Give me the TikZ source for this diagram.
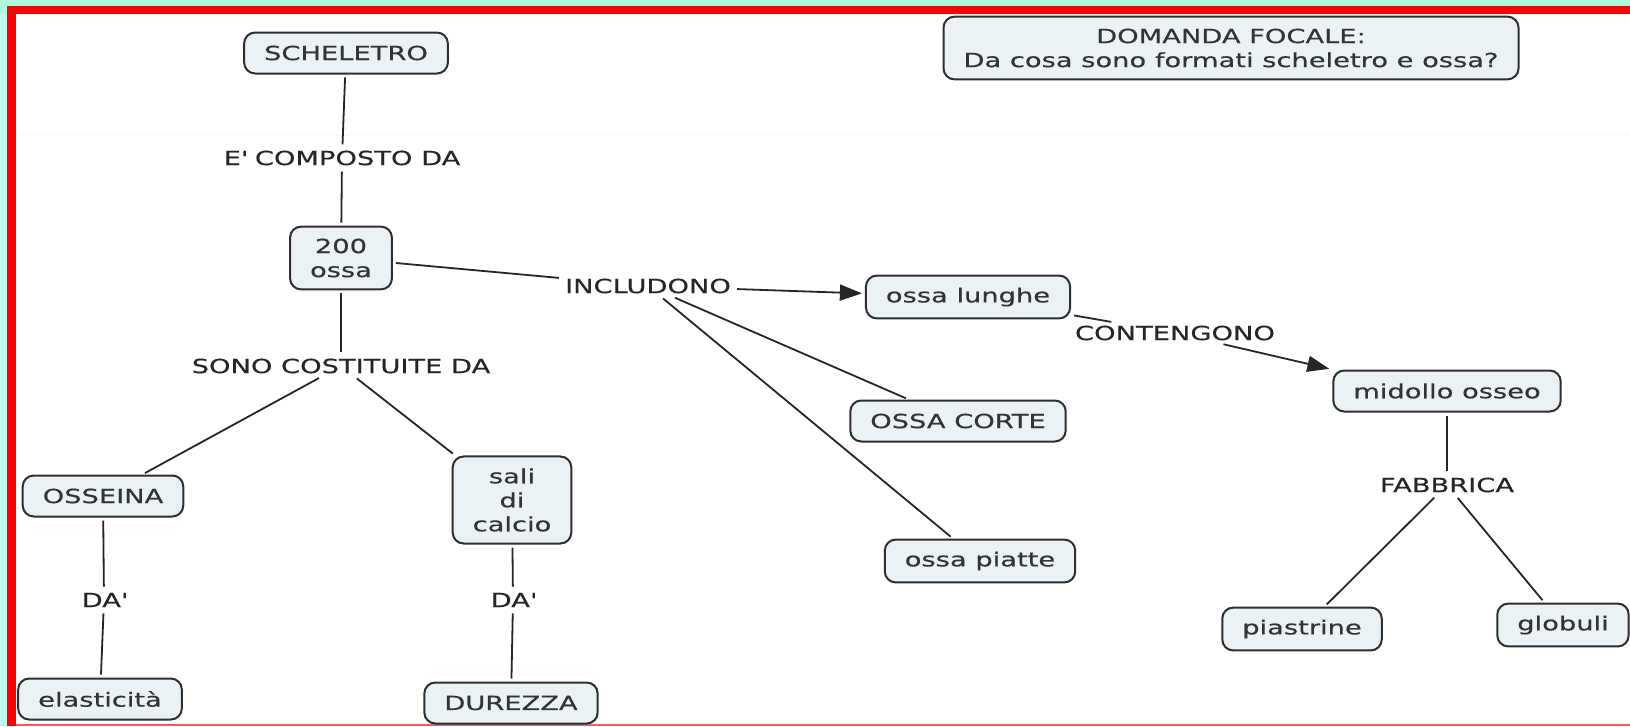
\documentclass[tikz,border=0pt]{standalone}
\usepackage{fontspec}
\setmainfont[FakeStretch=1.4, FakeBold=0.4]{DejaVu Sans}
\usepackage{tikz}
\usetikzlibrary{arrows.meta}
\definecolor{CmapFill}{HTML}{EBF2F5}
\definecolor{CmapLine}{HTML}{2E2E2E}
\definecolor{FrameRed}{HTML}{FF0000}
\definecolor{FrameMint}{HTML}{ADFBDD}
\definecolor{FrameCyan}{HTML}{C2F8F2}

\begin{document}
\begin{tikzpicture}[x=1pt, y=-1pt,
  every node/.style={font=\fontsize{19.5}{24}\selectfont},
  concept/.style={draw=CmapLine, fill=CmapFill, line width=2pt, rounded corners=11pt, text=black!80, inner xsep=20pt, inner ysep=12pt, minimum height=41pt, align=center},
  phrase/.style={text=black!85, inner sep=3pt},
  link/.style={draw=black!85, line width=1.8pt, shorten <=3pt, shorten >=3pt},
  arrowlink/.style={link, -{Triangle[length=22pt, width=16pt]}}]
  % Make it 1630 x 726
  \useasboundingbox (0,0) rectangle (1630,726);

  % frame round the map
  \fill[FrameMint] (0,0) rectangle (1630,726);
  \fill[FrameCyan] (0,14) rectangle (7,726);
  \fill[FrameRed] (7,6) rectangle (1630,14);
  \fill[FrameRed] (7,6) rectangle (16,726);
  \fill[white] (16,14) rectangle (1630,724);
  \fill[FrameRed!65] (16,724) rectangle (1630,726);
  \draw[FrameCyan!20, line width=1pt] (16,135) -- (1630,135);

  % concepts
  \node[concept] (sch) at (346, 53) {SCHELETRO};
  \node[concept] (focal) at (1231, 48) {DOMANDA FOCALE:\\Da cosa sono formati scheletro e ossa?};
  \node[concept] (ossa) at (341, 258) {200\\ossa};
  \node[concept] (lunghe) at (968, 297) {ossa lunghe};
  \node[concept] (corte) at (958, 421) {OSSA CORTE};
  \node[concept] (piatte) at (980, 561) {ossa piatte};
  \node[concept] (midollo) at (1447, 391) {midollo osseo};
  \node[concept] (piastrine) at (1302, 629) {piastrine};
  \node[concept] (globuli) at (1563, 625) {globuli};
  \node[concept] (osseina) at (103, 496) {OSSEINA};
  \node[concept] (sali) at (512, 500) {sali\\di\\calcio};
  \node[concept] (elast) at (100, 699) {elasticità};
  \node[concept] (durezza) at (511, 703) {DUREZZA};

  % linking phrases
  \node[phrase] (composto) at (342, 158) {E\textquotesingle{} COMPOSTO DA};
  \node[phrase] (includono) at (648, 286) {INCLUDONO};
  \node[phrase] (contengono) at (1175, 333) {CONTENGONO};
  \node[phrase] (fabbrica) at (1447, 485) {FABBRICA};
  \node[phrase] (costituite) at (341, 366) {SONO COSTITUITE DA};
  \node[phrase] (daA) at (104, 600) {DA\textquotesingle};
  \node[phrase] (daB) at (513, 600) {DA\textquotesingle};

  % links
  \draw[link] (sch) -- (composto);
  \draw[link] (composto) -- (ossa);
  \draw[link] (ossa) -- (includono);
  \draw[arrowlink] (includono) -- (lunghe);
  \draw[link] (includono) -- (corte);
  \draw[link] (includono) -- (piatte);
  \draw[link] (lunghe) -- (contengono);
  \draw[arrowlink] (contengono) -- (midollo.north west);
  \draw[link] (midollo) -- (fabbrica);
  \draw[link] (fabbrica) -- (piastrine);
  \draw[link] (fabbrica) -- (globuli);
  \draw[link] (ossa) -- (costituite);
  \draw[link] (costituite) -- (osseina);
  \draw[link] (costituite) -- (sali);
  \draw[link] (osseina) -- (daA);
  \draw[link] (daA) -- (elast);
  \draw[link] (sali) -- (daB);
  \draw[link] (daB) -- (durezza);
\end{tikzpicture}
\end{document}
